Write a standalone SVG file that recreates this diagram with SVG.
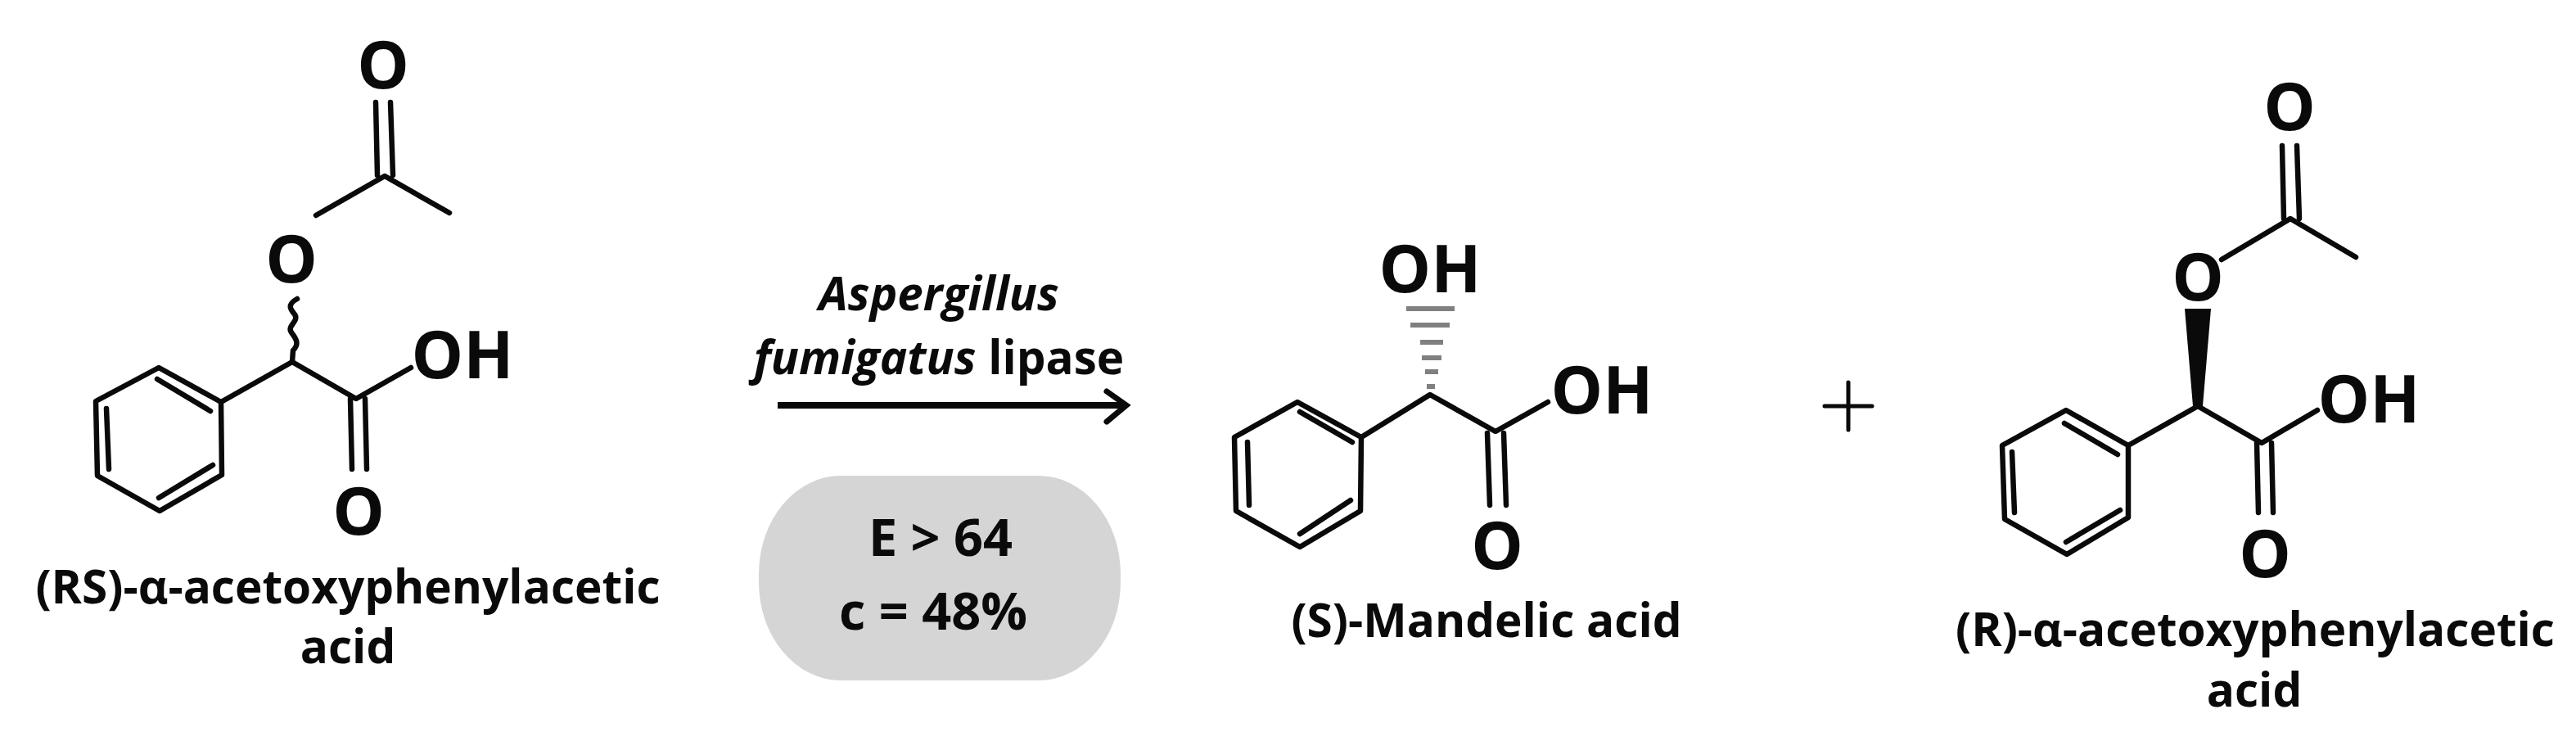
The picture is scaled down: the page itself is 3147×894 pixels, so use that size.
<svg xmlns="http://www.w3.org/2000/svg" width="3147" height="894" viewBox="0 0 3147 894">
<style>
text{font-family:"Open Sans","Noto Sans","Liberation Sans",sans-serif;fill:#0a0a0a;text-anchor:middle}
.a{font-size:80px;font-weight:700}
.l{font-size:56.7px;font-weight:700}
.c{font-size:63px;font-weight:700}
.r{font-size:56.6px;font-weight:700}
.b{fill:none;stroke:#0a0a0a;stroke-width:6.5;stroke-linecap:round;stroke-linejoin:round}
.t{stroke-width:5}
.h{stroke:#808080;stroke-width:6;fill:none}
</style>
<rect width="3147" height="894" fill="#fff"/>
<g id="substrate">
<path class="b" d="M270 491L194 449L117 490L119 581L195 624L271 580ZM192 463L257 502M130 499L133 573M194 608L260 568M270 491L357 442L435 487L502 449M386 263L470 215L549 260M459 125L461 214M477 125L480 214M428 487L430 573M446 487L448 573"/>
<path class="b" d="M363 365C350 372 355 378 360 384C366 392 350 398 356 406C362 414 366 420 358 428L357 442"/>
<text class="a" x="468" y="108">O</text>
<text class="a" x="356" y="345">O</text>
<text class="a" x="565" y="462">OH</text>
<text class="a" x="438" y="653">O</text>
<text class="l" x="425" y="737">(RS)-α-acetoxyphenylacetic</text>
<text class="l" x="425" y="810">acid</text>
</g>
<g id="conditions">
<rect x="927" y="581" width="442" height="250" rx="100" ry="120" fill="#d5d5d5"/>
<text class="c" x="1149" y="679">E &gt; 64</text>
<text class="c" x="1140" y="769">c = 48%</text>
</g>
<g id="enzyme">
<text class="r" x="1147" y="379" font-style="italic">Aspergillus</text>
<text class="r" x="1147" y="457"><tspan font-style="italic">fumigatus</tspan> lipase</text>
</g>
<g id="connectors">
<path d="M950 495H1374" fill="none" stroke="#0a0a0a" stroke-width="8"/>
<path d="M1352 478L1376 495L1352 515" fill="none" stroke="#0a0a0a" stroke-width="7" stroke-linecap="round"/>
</g>
<g id="s-mandelic-acid">
<path class="b" d="M1663 534L1585 491L1508 534L1510 624L1588 668L1662 624ZM1588 503L1652 540M1524 540L1526 617M1588 652L1650 611M1663 534L1747 482L1827 527L1891 491M1817 529L1820 617M1837 529L1840 617"/>
<path class="h" d="M1718 377H1777M1723 397H1771M1735 418H1763M1737 437H1761M1741 454H1757M1743 472H1753"/>
<text class="a" x="1747" y="357">OH</text>
<text class="a" x="1957" y="505">OH</text>
<text class="a" x="1829" y="695">O</text>
<text class="l" x="1816" y="778">(S)-Mandelic acid</text>
</g>
<g id="plus">
<path class="b t" d="M2229 496H2287M2258 467V525"/>
</g>
<g id="r-ester">
<path class="b" d="M2600 544L2524 501L2446 544L2449 634L2525 677L2600 632ZM2522 517L2587 555M2458 552L2461 626M2524 662L2590 623M2600 544L2685 496L2763 541L2831 501M2714 317L2798 267L2878 314M2788 178L2790 267M2806 178L2809 267M2757 541L2759 626M2775 541L2777 626"/>
<path d="M2669 377H2701L2691 496H2679Z" fill="#0a0a0a"/>
<text class="a" x="2797" y="159">O</text>
<text class="a" x="2685" y="367">O</text>
<text class="a" x="2894" y="516">OH</text>
<text class="a" x="2767" y="705">O</text>
<text class="l" x="2755" y="789">(R)-α-acetoxyphenylacetic</text>
<text class="l" x="2754" y="863">acid</text>
</g>
</svg>
